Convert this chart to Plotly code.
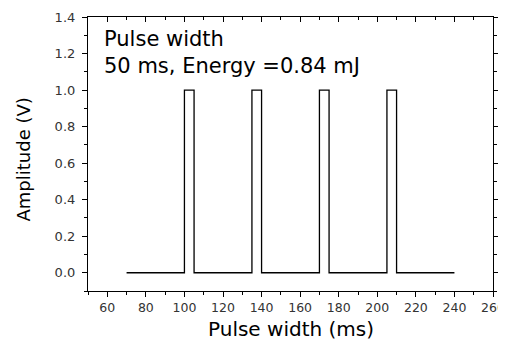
import plotly.graph_objects as go

# Data
pulse_start = [100, 135, 170, 205]   # ms, rising edges
pulse_end = [105, 140, 175, 210]     # ms, falling edges
trace_start = 70                     # ms
trace_end = 240                      # ms
amplitude = 1.0                      # V
baseline = 0.0                       # V

x_tick_vals = [60, 80, 100, 120, 140, 160, 180, 200, 220, 240, 260]
y_tick_vals = [0.0, 0.2, 0.4, 0.6, 0.8, 1.0, 1.2, 1.4]

x_title = "Pulse width (ms)"
y_title = "Amplitude (V)"
label_text = "Pulse width<br>50 ms, Energy =0.84 mJ"

xs, ys = [trace_start], [baseline]
for s, e in zip(pulse_start, pulse_end):
    xs += [s, s, e, e]
    ys += [baseline, amplitude, amplitude, baseline]
xs.append(trace_end)
ys.append(baseline)

font = "DejaVu Sans, Verdana, sans-serif"

fig = go.Figure()
fig.add_trace(go.Scatter(x=xs, y=ys, mode="lines",
                         line=dict(color="black", width=1.3),
                         showlegend=False, hoverinfo="skip"))
fig.add_trace(go.Scatter(x=[trace_start], y=[baseline], xaxis="x2", yaxis="y2",
                         mode="markers", marker=dict(opacity=0), showlegend=False,
                         hoverinfo="skip"))

axis_common = dict(showgrid=False, zeroline=False, linecolor="black", linewidth=1.2,
                   tickcolor="black", ticklen=5, tickwidth=1, automargin=False)

# The page body has an 8px default margin, so the figure is sized to fit the window.
fig.update_layout(
    width=498, height=333,
    margin=dict(l=80, r=13, t=9, b=50),
    paper_bgcolor="white", plot_bgcolor="white",
    xaxis=dict(range=[50, 260], tickvals=x_tick_vals, ticks="outside",
               showline=True, mirror=True, ticklabeloverflow="allow",
               minor=dict(dtick=10, tick0=50, ticks="outside", ticklen=3, tickcolor="black"),
               tickfont=dict(family=font, size=12.5, color="#333"),
               **axis_common),
    yaxis=dict(range=[-0.1, 1.4], tickvals=y_tick_vals, tickformat=".1f", ticks="outside",
               showline=True, mirror=True, ticklabelstandoff=4,
               minor=dict(dtick=0.1, tick0=0, ticks="outside", ticklen=3, tickcolor="black"),
               tickfont=dict(family=font, size=13, color="#333"),
               **axis_common),
    xaxis2=dict(range=[50, 260], overlaying="x", side="top", tickvals=x_tick_vals,
                ticks="inside", showticklabels=False,
                minor=dict(dtick=10, tick0=50, ticks="inside", ticklen=3, tickcolor="black"),
                **axis_common),
    yaxis2=dict(range=[-0.1, 1.4], overlaying="y", side="right", tickvals=y_tick_vals,
                ticks="outside", showticklabels=False,
                minor=dict(dtick=0.1, tick0=0, ticks="outside", ticklen=3, tickcolor="black"),
                **axis_common),
    annotations=[
        dict(text=label_text, xref="paper", yref="paper",
             x=0.035, y=0.972, xanchor="left", yanchor="top", showarrow=False, align="left",
             font=dict(family=font, size=21, color="black")),
        dict(text=x_title, xref="paper", yref="paper", x=0.5, y=0, yshift=-38,
             xanchor="center", yanchor="middle", showarrow=False,
             font=dict(family=font, size=20, color="black")),
        dict(text=y_title, xref="paper", yref="paper", x=0, xshift=-65, y=0.48,
             xanchor="center", yanchor="middle", textangle=-90, showarrow=False,
             font=dict(family=font, size=18, color="black")),
    ],
)

fig.write_html("out.html")
